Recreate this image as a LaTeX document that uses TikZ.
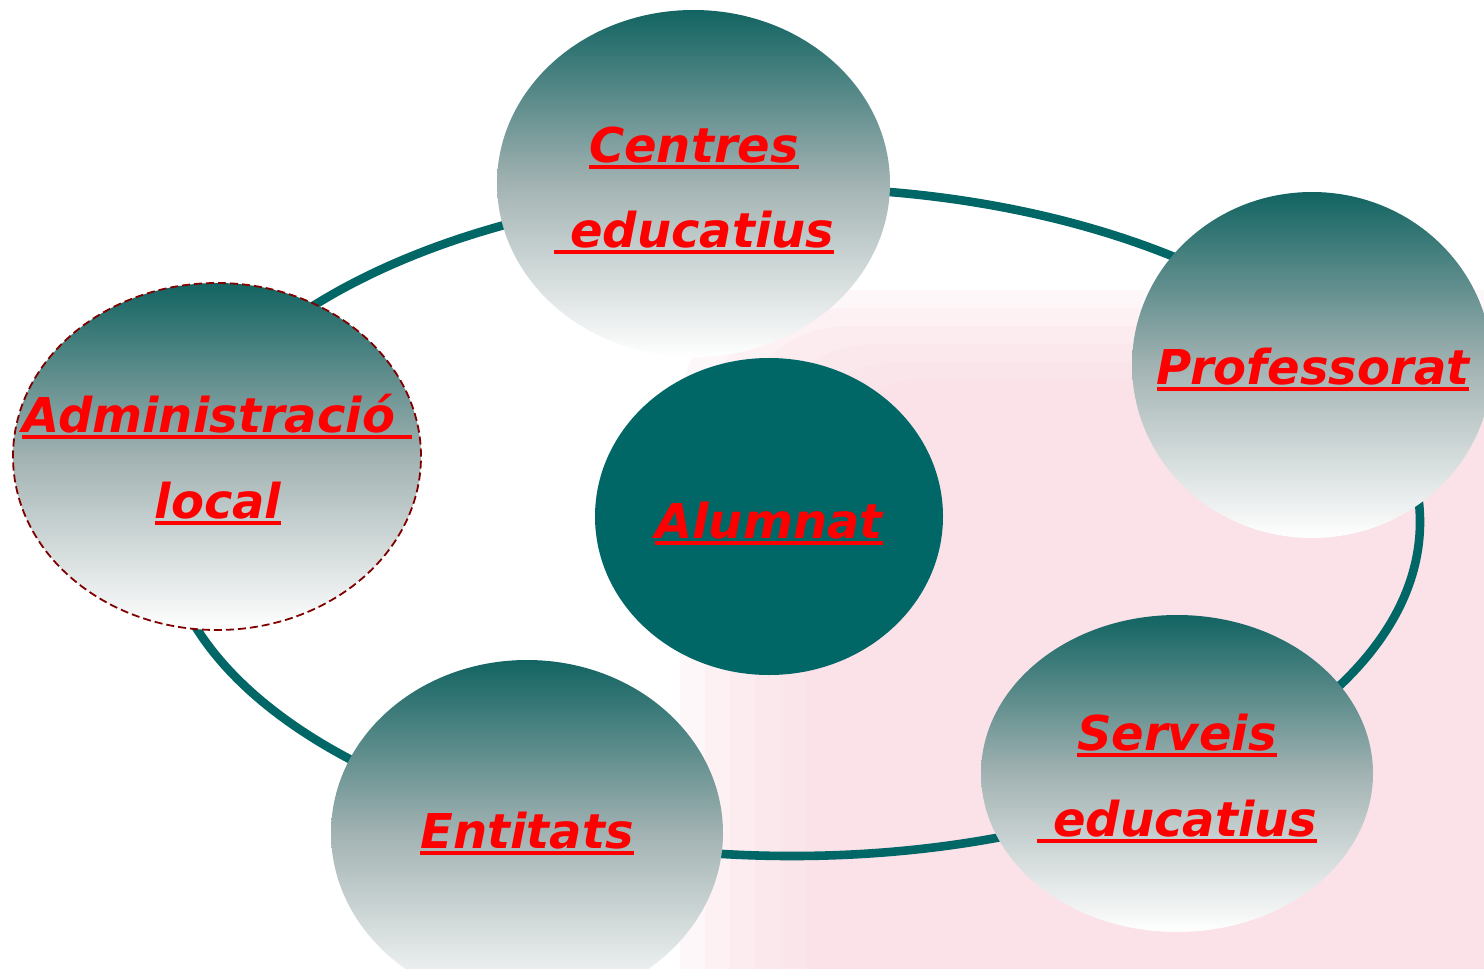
\documentclass[tikz,border=0pt]{standalone}
\usepackage{fontspec}
\setmainfont{DejaVu Sans}
\usetikzlibrary{shapes.geometric}
\definecolor{teal1}{RGB}{0,102,102}
\definecolor{tealtop}{RGB}{18,100,98}
\definecolor{tealmid}{RGB}{162,178,178}
\definecolor{dred}{RGB}{128,0,0}
\definecolor{pinkbg}{RGB}{250,218,225}
\newcommand\ulx[1]{\setbox0\hbox{#1}\rlap{\rule[-3.4pt]{\wd0}{1.8pt}}\box0}
\tikzset{
  bub/.style={ellipse, inner sep=0pt, top color=tealtop, bottom color=white, middle color=tealmid},
  txt/.style={font=\bfseries\itshape\fontsize{24}{29}\selectfont, text=red, inner sep=0pt, anchor=base},
  ring/.style={ellipse, draw=teal1, line width=4.3pt, inner sep=0pt},
  haze/.style={fill=pinkbg, opacity=0.2, rounded corners=60pt}
}
\begin{document}
\begin{tikzpicture}[x=0.5pt,y=-0.5pt]
\useasboundingbox (0,0) rectangle (1484,969);
\fill[white] (0,0) rectangle (1484,969);
% faint blurred pink background
\foreach \i in {0,...,5}{
  \fill[haze] (680+25*\i,290+18*\i) rectangle (1600,1100);
}
% ring
\node[ring, minimum width=628pt, minimum height=334pt] (ring) at (792,522) {};
% bubbles
\node[bub, minimum width=196.5pt, minimum height=173.5pt] (centres) at (693.5,183.5) {};
\node[bub, minimum width=180pt, minimum height=173pt] (prof) at (1312,365) {};
\node[bub, minimum width=204pt, minimum height=173.5pt, draw=dred, line width=0.9pt, dash pattern=on 4pt off 2pt] (admin) at (217,456.5) {};
\node[ellipse, inner sep=0pt, fill=teal1, minimum width=174pt, minimum height=158.5pt] (alumnat) at (769,516.5) {};
\node[bub, minimum width=196pt, minimum height=158.5pt] (serveis) at (1177,773.5) {};
\node[bub, minimum width=196pt, minimum height=173pt] (entitats) at (527,833) {};
% texts
\node[txt] (centres1) at (694,162) {\ulx{Centres}};
\node[txt] (centres2) at (694,247) {\ulx{\ educatius}};
\node[txt] (prof1) at (1313,384) {\ulx{Professorat}};
\node[txt] (admin1) at (217,432) {\ulx{Administració\ }};
\node[txt] (admin2) at (218,518) {\ulx{local}};
\node[txt] (alumnat1) at (769,538) {\ulx{Alumnat}};
\node[txt] (serveis1) at (1177,750) {\ulx{Serveis}};
\node[txt] (serveis2) at (1177,836) {\ulx{\ educatius}};
\node[txt] (entitats1) at (527,848) {\ulx{Entitats}};
\end{tikzpicture}
\end{document}
